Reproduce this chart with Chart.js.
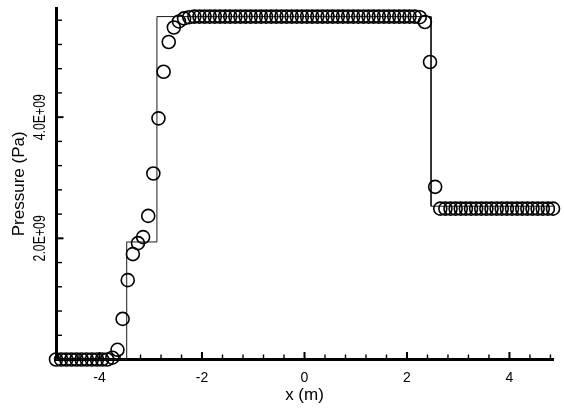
<!DOCTYPE html>
<html>
<head>
<meta charset="utf-8">
<script src="https://cdn.jsdelivr.net/npm/chart.js@4.4.1/dist/chart.umd.min.js"></script>
<style>
  html, body { margin: 0; padding: 0; background: #ffffff; }
  #wrap { width: 564px; height: 414px; }
</style>
</head>
<body>
<div id="wrap"><canvas id="c" width="564" height="414"></canvas></div>
<script>
// ---- data ----
// numerical solution: circles on a uniform grid
const gridX = [
  -4.85, -4.75, -4.65, -4.55, -4.45, -4.35, -4.25, -4.15, -4.05, -3.95,
  -3.85, -3.75, -3.65, -3.55, -3.45, -3.35, -3.25, -3.15, -3.05, -2.95,
  -2.85, -2.75, -2.65, -2.55, -2.45, -2.35, -2.25, -2.15, -2.05, -1.95,
  -1.85, -1.75, -1.65, -1.55, -1.45, -1.35, -1.25, -1.15, -1.05, -0.95,
  -0.85, -0.75, -0.65, -0.55, -0.45, -0.35, -0.25, -0.15, -0.05, 0.05,
  0.15, 0.25, 0.35, 0.45, 0.55, 0.65, 0.75, 0.85, 0.95, 1.05,
  1.15, 1.25, 1.35, 1.45, 1.55, 1.65, 1.75, 1.85, 1.95, 2.05,
  2.15, 2.25, 2.35, 2.45, 2.55, 2.65, 2.75, 2.85, 2.95, 3.05,
  3.15, 3.25, 3.35, 3.45, 3.55, 3.65, 3.75, 3.85, 3.95, 4.05,
  4.15, 4.25, 4.35, 4.45, 4.55, 4.65, 4.75, 4.85
];
const numericalPressure = [
  0, 0, 0, 0, 0, 0, 0, 0, 0, 0,
  0, 0.03e9, 0.16e9, 0.67e9, 1.31e9, 1.74e9, 1.92e9, 2.02e9, 2.37e9, 3.07e9,
  3.98e9, 4.75e9, 5.24e9, 5.48e9, 5.58e9, 5.63e9, 5.65e9, 5.66e9, 5.66e9, 5.66e9,
  5.66e9, 5.66e9, 5.66e9, 5.66e9, 5.66e9, 5.66e9, 5.66e9, 5.66e9, 5.66e9, 5.66e9,
  5.66e9, 5.66e9, 5.66e9, 5.66e9, 5.66e9, 5.66e9, 5.66e9, 5.66e9, 5.66e9, 5.66e9,
  5.66e9, 5.66e9, 5.66e9, 5.66e9, 5.66e9, 5.66e9, 5.66e9, 5.66e9, 5.66e9, 5.66e9,
  5.66e9, 5.66e9, 5.66e9, 5.66e9, 5.66e9, 5.66e9, 5.66e9, 5.66e9, 5.66e9, 5.66e9,
  5.66e9, 5.65e9, 5.57e9, 4.91e9, 2.85e9, 2.49e9, 2.49e9, 2.49e9, 2.49e9, 2.49e9,
  2.49e9, 2.49e9, 2.49e9, 2.49e9, 2.49e9, 2.49e9, 2.49e9, 2.49e9, 2.49e9, 2.49e9,
  2.49e9, 2.49e9, 2.49e9, 2.49e9, 2.49e9, 2.49e9, 2.49e9, 2.49e9
];
// exact solution: step profile vertices
const exactX = [-4.85, -3.47, -3.47, -2.88, -2.88, 2.47, 2.47, 4.85];
const exactPressure = [0, 0, 1.94e9, 1.94e9, 5.66e9, 5.66e9, 2.53e9, 2.53e9];

// axes
const xMajorTicks = [-4, -2, 0, 2, 4];
const xTickLabels = ['-4', '-2', '0', '2', '4'];
const xMinorTicks = [-4.8, -4.4, -3.6, -3.2, -2.8, -2.4, -1.6, -1.2, -0.8, -0.4,
                     0.4, 0.8, 1.2, 1.6, 2.4, 2.8, 3.2, 3.6, 4.4, 4.8];
const yMajorTicks = [2e9, 4e9];
const yTickLabels = ['2.0E+09', '4.0E+09'];
const yMinorTicks = [0.4e9, 0.8e9, 1.2e9, 1.6e9, 2.4e9, 2.8e9, 3.2e9, 3.6e9,
                     4.4e9, 4.8e9, 5.2e9, 5.6e9];
const xTitle = 'x (m)';
const yTitle = 'Pressure (Pa)';

// ---- build ----
const numericalData = gridX.map((x, i) => ({ x: x, y: numericalPressure[i] }));
const exactData = exactX.map((x, i) => ({ x: x, y: exactPressure[i] }));

const FONT = "'Liberation Sans', Arial, Helvetica, sans-serif";

const inwardTicks = {
  id: 'inwardTicks',
  afterDraw(chart) {
    const ctx = chart.ctx;
    const xs = chart.scales.x, ys = chart.scales.y;
    const area = chart.chartArea;
    ctx.save();
    ctx.strokeStyle = '#000';
    // x ticks (pointing up into the plot)
    const xt = (v, len, w) => {
      const p = xs.getPixelForValue(v);
      ctx.lineWidth = w;
      ctx.beginPath();
      ctx.moveTo(p, area.bottom);
      ctx.lineTo(p, area.bottom - len);
      ctx.stroke();
    };
    xMinorTicks.forEach(v => xt(v, 5, 1.4));
    xMajorTicks.forEach(v => xt(v, 7.5, 2));
    // y ticks (pointing right into the plot)
    const yt = (v, len, w) => {
      const p = ys.getPixelForValue(v);
      ctx.lineWidth = w;
      ctx.beginPath();
      ctx.moveTo(area.left, p);
      ctx.lineTo(area.left + len, p);
      ctx.stroke();
    };
    yMinorTicks.forEach(v => yt(v, 6, 1.4));
    yMajorTicks.forEach(v => yt(v, 7.5, 2));
    // rotated y tick labels
    ctx.fillStyle = '#000';
    ctx.font = '16px ' + FONT;
    ctx.textAlign = 'center';
    ctx.textBaseline = 'middle';
    yMajorTicks.forEach((v, i) => {
      const p = ys.getPixelForValue(v);
      ctx.save();
      ctx.translate(area.left - 15, p);
      ctx.rotate(-Math.PI / 2);
      ctx.scale(0.77, 1);
      ctx.fillText(yTickLabels[i], 0, 0);
      ctx.restore();
    });
    ctx.restore();
  }
};

Chart.defaults.font.family = FONT;
Chart.defaults.color = '#000';

new Chart(document.getElementById('c'), {
  type: 'scatter',
  data: {
    datasets: [
      {
        label: 'exact',
        data: exactData,
        showLine: true,
        borderColor: '#1a1a1a',
        borderWidth: 1,
        pointRadius: 0,
        fill: false,
        clip: false,
        order: 2
      },
      {
        label: 'numerical',
        data: numericalData,
        showLine: false,
        pointStyle: 'circle',
        pointRadius: 6.5,
        pointBorderWidth: 1.6,
        pointBorderColor: '#000',
        pointBackgroundColor: 'rgba(0,0,0,0)',
        clip: false,
        order: 1
      }
    ]
  },
  options: {
    responsive: false,
    animation: false,
    devicePixelRatio: 1,
    layout: { padding: { left: 0, top: 7, right: 11, bottom: 0 } },
    plugins: {
      legend: { display: false },
      tooltip: { enabled: false },
      title: { display: false }
    },
    scales: {
      x: {
        type: 'linear',
        position: 'bottom',
        min: -4.85,
        max: 4.85,
        afterBuildTicks: s => { s.ticks = xMajorTicks.map(v => ({ value: v })); },
        afterFit: s => { s.height = 54.5; },
        grid: { display: false, drawTicks: false },
        border: { display: true, width: 3, color: '#000' },
        ticks: {
          padding: 10,
          font: { size: 14 },
          color: '#000',
          autoSkip: false,
          maxRotation: 0,
          callback: (v) => {
            const i = xMajorTicks.indexOf(v);
            return i >= 0 ? xTickLabels[i] : '';
          }
        },
        title: {
          display: true,
          text: xTitle,
          font: { size: 17 },
          color: '#000',
          padding: { top: 0, bottom: 8.3 }
        }
      },
      y: {
        type: 'linear',
        position: 'left',
        min: 0,
        max: 5.8e9,
        afterBuildTicks: s => { s.ticks = yMajorTicks.map(v => ({ value: v })); },
        afterFit: s => { s.width = 56; },
        grid: { display: false, drawTicks: false },
        border: { display: true, width: 3, color: '#000' },
        ticks: { display: false },
        title: {
          display: true,
          text: yTitle,
          font: { size: 17 },
          color: '#000',
          padding: { top: 9.3, bottom: 0 }
        }
      }
    }
  },
  plugins: [inwardTicks]
});
</script>
</body>
</html>
